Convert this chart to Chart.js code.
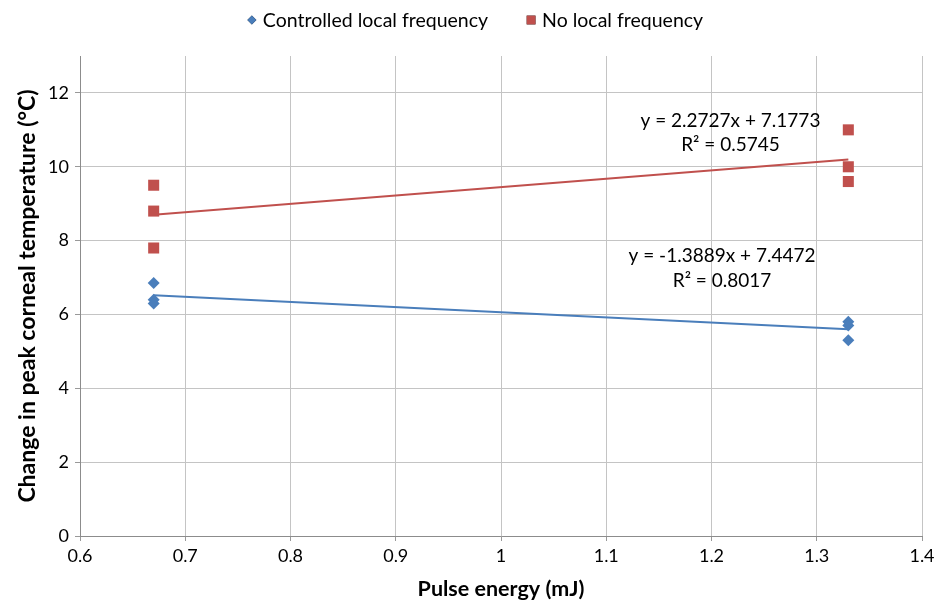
<!DOCTYPE html>
<html>
<head>
<meta charset="utf-8">
<script src="https://cdn.jsdelivr.net/npm/chart.js@4/dist/chart.umd.min.js"></script>
<style>
html,body{margin:0;padding:0;background:#fff;}
#wrap{width:940px;height:602px;}
</style>
</head>
<body>
<div id="wrap"><canvas id="c" width="940" height="602"></canvas></div>
<script>
// Data
const seriesNames = ["Controlled local frequency", "No local frequency"];
const pulseEnergyX = [0.67, 0.67, 0.67, 1.33, 1.33, 1.33];
const controlledY = [6.85, 6.4, 6.3, 5.8, 5.7, 5.3];
const noLocalY = [9.5, 8.8, 7.8, 11.0, 10.0, 9.6];
const trendX = [0.67, 1.33];
const controlledTrendY = [6.52, 5.60];
const noLocalTrendY = [8.70, 10.20];
const equationLabels = [
  ["y = 2.2727x + 7.1773", "R\u00b2 = 0.5745"],
  ["y = -1.3889x + 7.4472", "R\u00b2 = 0.8017"]
];
const equationAnchors = [[1.218, 11.25, 10.6], [1.21, 7.59, 6.91]];
const yTicks = [0, 2, 4, 6, 8, 10, 12];
const xTicks = [0.6, 0.7, 0.8, 0.9, 1, 1.1, 1.2, 1.3, 1.4];

const BLUE = '#4a7ebb';
const RED = '#c0504d';
const FONT = "Lato, 'Liberation Sans', sans-serif";

const toPts = (xs, ys) => xs.map((x, i) => ({x: x, y: ys[i]}));

const eqPlugin = {
  id: 'eqLabels',
  afterDatasetsDraw(chart) {
    const ctx = chart.ctx, xs = chart.scales.x, ys = chart.scales.y;
    ctx.save();
    ctx.fillStyle = '#000';
    ctx.font = "19px " + FONT;
    ctx.textAlign = 'center';
    ctx.textBaseline = 'middle';
    equationLabels.forEach((lines, i) => {
      const a = equationAnchors[i];
      ctx.fillText(lines[0], xs.getPixelForValue(a[0]), ys.getPixelForValue(a[1]));
      ctx.fillText(lines[1], xs.getPixelForValue(a[0]), ys.getPixelForValue(a[2]));
    });
    ctx.restore();
  }
};

const legendPlugin = {
  id: 'topLegend',
  afterDraw(chart) {
    const ctx = chart.ctx;
    ctx.save();
    ctx.font = "19.5px " + FONT;
    ctx.textBaseline = 'middle';
    ctx.textAlign = 'left';
    const markerW = 16, gap = 38, y = 20;
    const items = [0, 1].map(i => ({ds: chart.data.datasets[i], w: ctx.measureText(seriesNames[i]).width}));
    const total = items.reduce((s, it) => s + markerW + it.w, 0) + gap;
    let x = chart.width / 2 + 5 - total / 2;
    items.forEach((it, i) => {
      const style = it.ds.pointStyle;
      Chart.helpers.drawPoint(ctx, {
        pointStyle: style,
        radius: style === 'rectRot' ? 4.5 : 6.2,
        borderWidth: 0,
        rotation: 0
      }, x + 5, y);
      ctx.fillStyle = it.ds.backgroundColor;
      ctx.fill();
      ctx.fillStyle = '#000';
      ctx.fillText(seriesNames[i], x + markerW, y + 1);
      x += markerW + it.w + gap;
    });
    ctx.restore();
  }
};

new Chart(document.getElementById('c'), {
  type: 'scatter',
  data: {
    datasets: [
      {
        label: seriesNames[0],
        data: toPts(pulseEnergyX, controlledY),
        pointStyle: 'rectRot',
        pointRadius: 6,
        pointHoverRadius: 6,
        backgroundColor: BLUE,
        borderColor: BLUE,
        borderWidth: 0
      },
      {
        label: seriesNames[1],
        data: toPts(pulseEnergyX, noLocalY),
        pointStyle: 'rect',
        pointRadius: 7.8,
        pointHoverRadius: 7.8,
        backgroundColor: RED,
        borderColor: RED,
        borderWidth: 0
      },
      {
        label: 'trend1',
        data: toPts(trendX, controlledTrendY),
        showLine: true,
        pointRadius: 0,
        borderColor: BLUE,
        borderWidth: 2,
        fill: false
      },
      {
        label: 'trend2',
        data: toPts(trendX, noLocalTrendY),
        showLine: true,
        pointRadius: 0,
        borderColor: RED,
        borderWidth: 2,
        fill: false
      }
    ]
  },
  options: {
    responsive: false,
    animation: false,
    devicePixelRatio: 1,
    layout: {padding: {left: 0, right: 18, top: 56, bottom: 0}},
    plugins: {
      tooltip: {enabled: false},
      legend: {display: false}
    },
    scales: {
      x: {
        type: 'linear',
        min: 0.6, max: 1.4,
        afterBuildTicks: (s) => { s.ticks = xTicks.map(v => ({value: v})); },
        afterFit: (s) => { s.height = 66; },
        ticks: {
          color: '#000',
          font: {family: FONT, size: 18},
          padding: 4,
          callback: (v) => String(Math.round(v * 10) / 10)
        },
        grid: {color: '#c4c4c4', tickLength: 5, tickColor: '#999'},
        border: {color: '#8c8c8c'},
        title: {
          display: true,
          text: 'Pulse energy (mJ)',
          color: '#000',
          font: {family: FONT, size: 21.5, weight: 'bold'},
          padding: {top: 4, bottom: 0}
        }
      },
      y: {
        type: 'linear',
        min: 0, max: 13,
        afterBuildTicks: (s) => { s.ticks = yTicks.map(v => ({value: v})); },
        afterFit: (s) => { s.width = 80; },
        ticks: {
          color: '#000',
          font: {family: FONT, size: 18},
          padding: 6
        },
        grid: {color: '#c4c4c4', tickLength: 5, tickColor: '#999'},
        border: {color: '#8c8c8c'},
        title: {
          display: true,
          text: 'Change in peak corneal temperature (\u00b0C)',
          color: '#000',
          font: {family: FONT, size: 23, weight: 'bold'},
          padding: {top: 14, bottom: 0}
        }
      }
    }
  },
  plugins: [eqPlugin, legendPlugin]
});
</script>
</body>
</html>
